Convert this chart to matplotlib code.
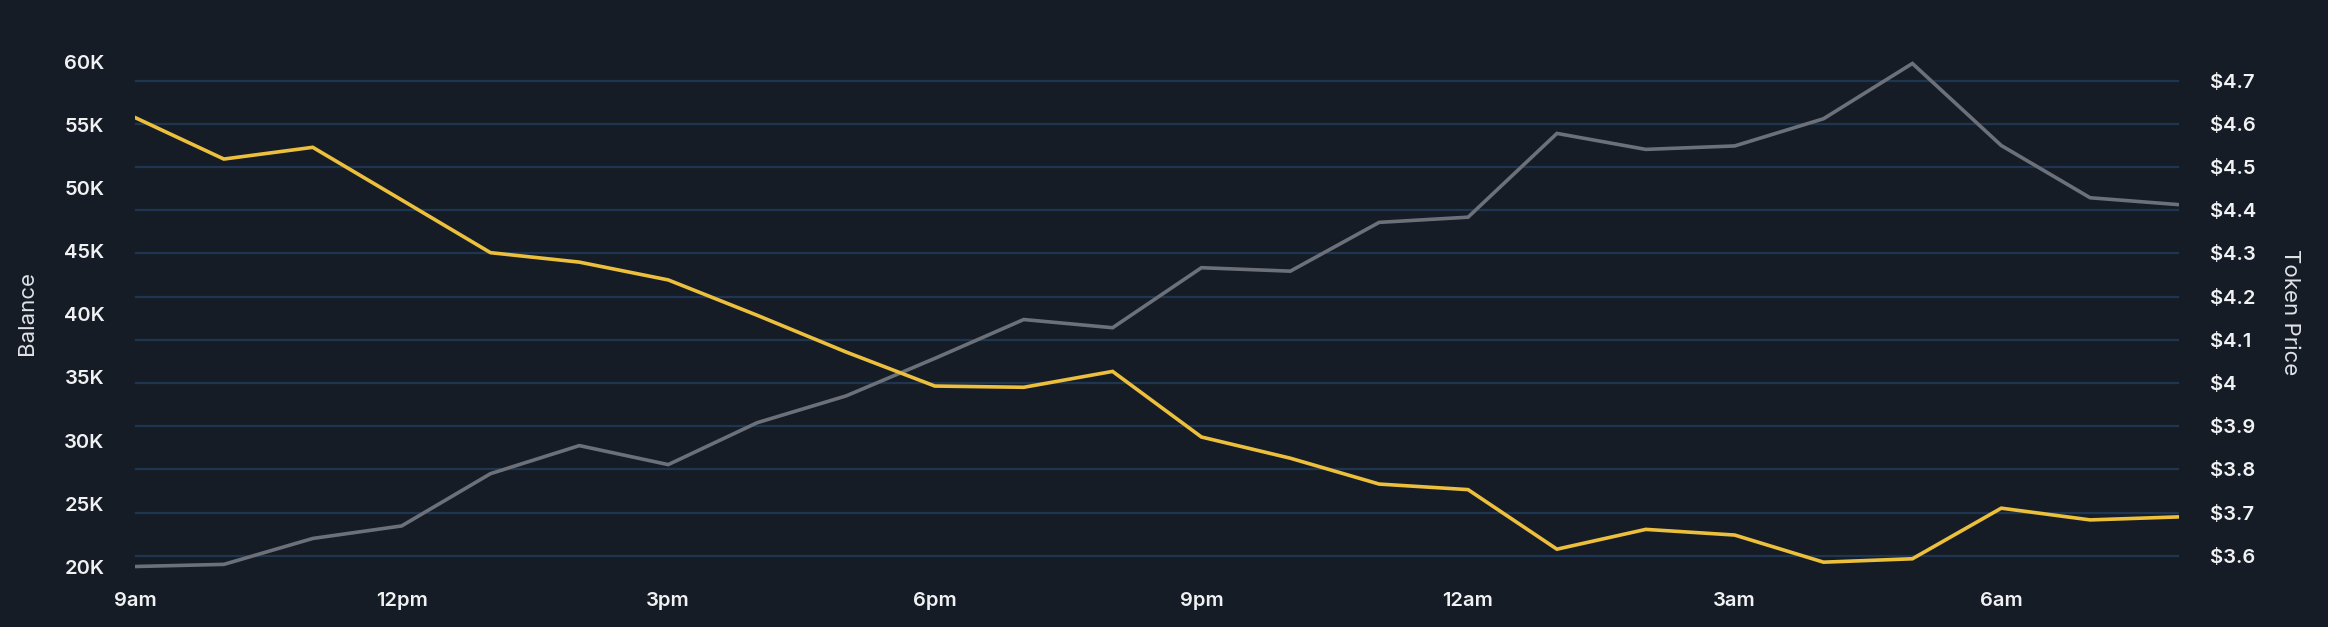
from matplotlib import pyplot as plt
import numpy as np

BG = '#161c25'
GRID = '#1f3652'
YELLOW = '#ecbf3c'
GREY = '#6b7079'

hours = np.arange(24)  # hourly points, 9am .. 8am
tick_pos = [0, 3, 6, 9, 12, 15, 18, 21]
tick_labels = ['9am', '12pm', '3pm', '6pm', '9pm', '12am', '3am', '6am']

balance = [55600, 52310, 53240, 49070, 44890, 44140, 42730, 39930, 37020, 34320,
           34220, 35480, 30280, 28600, 26550, 26110, 21390, 22960, 22510, 20360,
           20630, 24640, 23710, 23950]
price = [3.575, 3.580, 3.640, 3.669, 3.790, 3.855, 3.811, 3.908, 3.970, 4.057,
         4.147, 4.128, 4.267, 4.259, 4.372, 4.384, 4.578, 4.541, 4.549, 4.612,
         4.740, 4.550, 4.429, 4.413]

balance_ticks = np.arange(20000, 60001, 5000)
price_ticks = np.round(np.arange(3.6, 4.71, 0.1), 1)

plt.rcParams['font.family'] = ['Inter', 'DejaVu Sans']

fig = plt.figure(figsize=(23.28, 6.27), dpi=100, facecolor=BG)
ax = fig.add_axes([0.058, 0.0829, 0.878, 0.8373])
ax2 = ax.twinx()
ax.set_facecolor(BG)

# price axis carries the grid
ax2.set_ylim(3.5553, 4.7711)
ax2.set_yticks(price_ticks)
ax2.set_yticklabels(['$' + ('%g' % p) for p in price_ticks])
ax2.yaxis.grid(True, color=GRID, linewidth=1.6)
ax2.set_ylabel('Token Price', color='#dfe2e6', fontsize=16, rotation=270,
               labelpad=32)

ax.set_ylim(19342, 60950)
ax.set_yticks(balance_ticks)
ax.set_yticklabels(['%dK' % (b // 1000) for b in balance_ticks])
ax.set_ylabel('Balance', color='#dfe2e6', fontsize=16, labelpad=19)

ax.set_xlim(0, 23)
ax.set_xticks(tick_pos)
ax.set_xticklabels(tick_labels)

ax2.plot(hours, price, color=GREY, linewidth=2.6, solid_joinstyle='miter')
ax.plot(hours, balance, color=YELLOW, linewidth=2.6, solid_joinstyle='miter')
ax.set_zorder(ax2.get_zorder() + 1)
ax.patch.set_visible(False)
ax2.patch.set_facecolor(BG)

for a in (ax, ax2):
    for s in a.spines.values():
        s.set_visible(False)
    a.tick_params(length=0, colors='#f0f1f3', labelsize=14.5)
    for t in a.get_xticklabels() + a.get_yticklabels():
        t.set_fontweight('semibold')
ax.tick_params(axis='y', pad=22)
ax2.tick_params(axis='y', pad=22)
ax.tick_params(axis='x', pad=12)

fig.savefig('out.png', facecolor=BG)
